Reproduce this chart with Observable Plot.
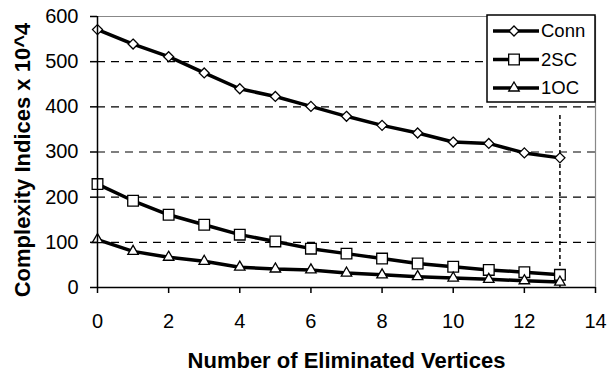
<!DOCTYPE html>
<html>
<head>
<meta charset="utf-8">
<script src="https://cdn.jsdelivr.net/npm/d3@7"></script>
<script src="https://cdn.jsdelivr.net/npm/@observablehq/plot@0.6"></script>
<style>
  html, body { margin: 0; padding: 0; background: #fff; }
  #chart { width: 609px; height: 373px; }
  svg text { font-family: "Liberation Sans", Arial, sans-serif; }
</style>
</head>
<body>
<div id="chart"></div>
<script>
const vertices = [0, 1, 2, 3, 4, 5, 6, 7, 8, 9, 10, 11, 12, 13];
const conn = [571, 539, 511, 475, 440, 423, 401, 379, 359, 342, 322, 319, 298, 287];
const sc2  = [229, 192, 161, 139, 117, 102, 86, 75, 64, 53, 46, 39, 34, 28];
const oc1  = [106, 80, 67, 58, 45, 41, 39, 32, 28, 24, 21, 18, 15, 12];
const seriesNames = ["Conn", "2SC", "1OC"];
const xTicks = [0, 2, 4, 6, 8, 10, 12, 14];
const yTicks = [0, 100, 200, 300, 400, 500, 600];
const gridValues = [100, 200, 300, 400, 500];
const dropX = 13;
const xTitle = "Number of Eliminated Vertices";
const yTitle = "Complexity Indices x 10^4";

const values = [conn, sc2, oc1];
const data = [];
seriesNames.forEach((s, i) => vertices.forEach((v, j) => data.push({series: s, x: v, y: values[i][j]})));
const bySeries = s => data.filter(d => d.series === s);

const symbols = {"Conn": "diamond2", "2SC": "square2", "1OC": "triangle2"};
const radii = {"Conn": 4.5, "2SC": 6.8, "1OC": 5};

const plot = Plot.plot({
  width: 609,
  height: 373,
  marginLeft: 97,
  marginRight: 14,
  marginTop: 16,
  marginBottom: 86,
  style: {fontFamily: "'Liberation Sans', Arial, sans-serif", fontSize: "20px", background: "#fff", color: "#000"},
  x: {domain: [0, 14]},
  y: {domain: [0, 600]},
  marks: [
    Plot.ruleY(gridValues, {stroke: "#000", strokeWidth: 1.2, strokeDasharray: "8,6"}),
    Plot.ruleY([600], {stroke: "#888", strokeWidth: 1.2}),
    Plot.ruleX([14], {stroke: "#888", strokeWidth: 1.2}),
    Plot.ruleX([dropX], {y1: 0, y2: 385, stroke: "#000", strokeWidth: 1.5, strokeDasharray: "4,3"}),
    ...seriesNames.map(s => Plot.line(bySeries(s), {x: "x", y: "y", stroke: "#000", strokeWidth: 3.5})),
    ...seriesNames.map(s => Plot.dot(bySeries(s), {x: "x", y: "y", symbol: () => symbols[s], r: radii[s], fill: "#fff", stroke: "#000", strokeWidth: 1.3})),
    Plot.ruleY([0], {stroke: "#000", strokeWidth: 1.5}),
    Plot.ruleX([0], {stroke: "#000", strokeWidth: 1.5}),
    Plot.axisY({ticks: yTicks, tickSize: 7, tickPadding: 12, tickFormat: d => String(d), label: null, stroke: "#000", strokeWidth: 1.5}),
    Plot.axisX({ticks: xTicks, tickSize: 6, tickPadding: 20, tickFormat: d => String(d), label: null, stroke: "#000", strokeWidth: 1.5}),
    Plot.text([yTitle], {frameAnchor: "left", textAnchor: "middle", dx: -75, dy: 8, rotate: -90, fontSize: 22, fontWeight: "bold", fill: "#000"}),
    Plot.text([xTitle], {frameAnchor: "bottom", dy: 80, fontSize: 22, fontWeight: "bold", fill: "#000"})
  ]
});

document.getElementById("chart").appendChild(plot);

// legend
const svgSel = d3.select(plot);
const xScale = plot.scale("x"), yScale = plot.scale("y");
const plotRight = xScale.apply(14), plotTop = yScale.apply(600);
const boxW = 108, boxH = 87;
const g = svgSel.append("g").attr("transform", `translate(${plotRight - boxW},${plotTop - 1})`);
g.append("rect").attr("width", boxW).attr("height", boxH).attr("fill", "#fff").attr("stroke", "#000").attr("stroke-width", 1.5);
const symMap = {"Conn": d3.symbolDiamond2, "2SC": d3.symbolSquare2, "1OC": d3.symbolTriangle2};
seriesNames.forEach((s, i) => {
  const yy = 16 + i * 28.5;
  g.append("line").attr("x1", 6).attr("x2", 52).attr("y1", yy).attr("y2", yy).attr("stroke", "#000").attr("stroke-width", 3.5);
  g.append("path").attr("d", d3.symbol(symMap[s], Math.PI * radii[s] * radii[s])()).attr("transform", `translate(27,${yy})`).attr("fill", "#fff").attr("stroke", "#000").attr("stroke-width", 1.3);
  g.append("text").attr("x", 54).attr("y", yy).attr("dy", "0.35em").attr("text-anchor", "start").attr("font-size", 18.5).attr("fill", "#000").text(s);
});
</script>
</body>
</html>
